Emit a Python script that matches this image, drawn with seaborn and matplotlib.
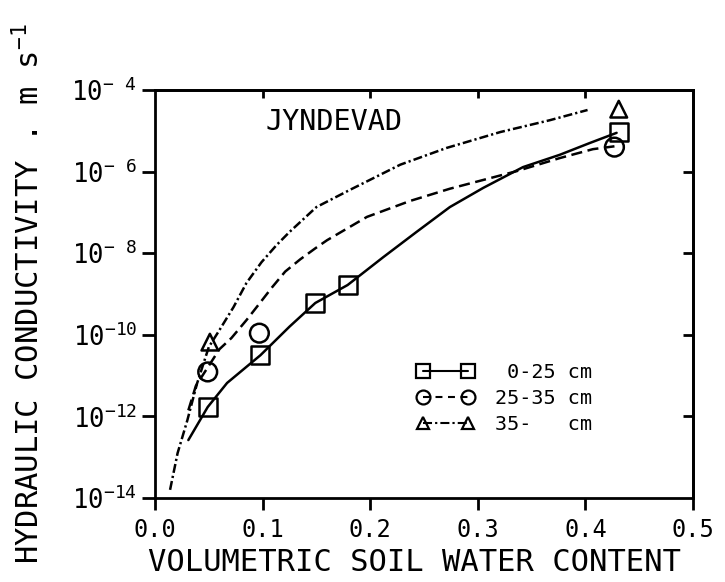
import numpy as np
import matplotlib
matplotlib.use("Agg")
import matplotlib.pyplot as plt
from matplotlib.lines import Line2D
from matplotlib.ticker import NullLocator
import seaborn as sns

# Fitted conductivity curves: volumetric water content vs log10 K (m s-1)
theta_0_25 = [0.031, 0.049, 0.067, 0.098, 0.125, 0.149, 0.179, 0.212, 0.243,
              0.274, 0.305, 0.342, 0.376, 0.404, 0.429]
logk_0_25 = [-12.58, -11.77, -11.18, -10.50, -9.80, -9.22, -8.78, -8.10, -7.48,
             -6.87, -6.40, -5.89, -5.59, -5.30, -5.05]

theta_25_35 = [0.031, 0.038, 0.049, 0.060, 0.071, 0.085, 0.096, 0.109, 0.121,
               0.135, 0.149, 0.160, 0.197, 0.237, 0.274, 0.336, 0.376, 0.407, 0.427]
logk_25_35 = [-11.85, -11.25, -10.80, -10.35, -10.08, -9.64, -9.27, -8.83, -8.45,
              -8.15, -7.88, -7.68, -7.11, -6.72, -6.42, -5.99, -5.67, -5.45, -5.38]

theta_35 = [0.014, 0.021, 0.030, 0.039, 0.050, 0.060, 0.073, 0.085, 0.099, 0.113,
            0.125, 0.150, 0.181, 0.228, 0.271, 0.321, 0.367, 0.402]
logk_35 = [-13.80, -12.90, -12.10, -11.20, -10.30, -9.88, -9.32, -8.73, -8.22, -7.80,
           -7.48, -6.87, -6.45, -5.83, -5.42, -5.03, -4.74, -4.49]

# Measured values
meas_theta_0_25 = [0.049, 0.098, 0.149, 0.179, 0.431]
meas_logk_0_25 = [-11.77, -10.50, -9.22, -8.78, -5.03]
meas_theta_25_35 = [0.049, 0.097, 0.427]
meas_logk_25_35 = [-10.91, -9.96, -5.40]
meas_theta_35 = [0.051, 0.431]
meas_logk_35 = [-10.18, -4.47]

layer_labels = [" 0-25 cm", "25-35 cm", "35-   cm"]
x_ticks = [0.0, 0.1, 0.2, 0.3, 0.4, 0.5]
y_exponents = [4, 6, 8, 10, 12, 14]


def power_label(e):
    # exponent kept in a two-character field, as on a pen plotter
    pad = r"\ \ " if e < 10 else ""
    return r"$10^{-" + pad + str(e) + "}$"


sns.set_theme(style="ticks")
plt.rcParams.update({
    "font.family": ["DejaVu Sans Mono", "DejaVu Sans"],
    "mathtext.default": "regular",
    "axes.linewidth": 2.0,
    "lines.scale_dashes": False,
    "axes.edgecolor": "black",
    "axes.labelcolor": "black",
    "text.color": "black",
    "xtick.color": "black",
    "ytick.color": "black",
})

ls_solid = "-"
ls_dashed = (0, (8, 4))
ls_dashdot = (0, (6.5, 2.2, 1.6, 2.2))

fig = plt.figure(figsize=(7.25, 5.82), dpi=100)
ax = fig.add_axes([155 / 725, 84 / 582, 538 / 725, 408 / 582])
ax.set_yscale("log")

for th, lk, ls in [(theta_0_25, logk_0_25, ls_solid),
                   (theta_25_35, logk_25_35, ls_dashed),
                   (theta_35, logk_35, ls_dashdot)]:
    sns.lineplot(x=th, y=10.0 ** np.array(lk), ax=ax, color="black", lw=1.8,
                 linestyle=ls, sort=False, estimator=None)

for th, lk, mk, size in [(meas_theta_0_25, meas_logk_0_25, "s", 13),
                         (meas_theta_25_35, meas_logk_25_35, "o", 13.5),
                         (meas_theta_35, meas_logk_35, "^", 12)]:
    sns.scatterplot(x=th, y=10.0 ** np.array(lk), ax=ax, marker=mk, s=size ** 2,
                    facecolor="none", edgecolor="black", linewidth=1.8, zorder=3)

ax.set_xlim(0.0, 0.5)
ax.set_ylim(1e-14, 1e-4)

ax.set_xticks(x_ticks)
ax.set_xticklabels([f"{v:.1f}" for v in x_ticks])
ax.set_yticks([10.0 ** -e for e in y_exponents])
ax.set_yticklabels([power_label(e) for e in y_exponents])
ax.yaxis.set_minor_locator(NullLocator())
ax.tick_params(axis="x", direction="out", length=8.6, width=2, pad=6, labelsize=17)
ax.tick_params(axis="y", direction="out", length=9.4, width=2, pad=3.5, labelsize=18.5)

top = ax.secondary_xaxis("top")
top.set_xticks([0.1, 0.2, 0.3, 0.4])
top.tick_params(direction="in", length=6, width=2, labeltop=False)
right = ax.secondary_yaxis("right")
right.set_yticks([10.0 ** -e for e in [6, 8, 10, 12]])
right.yaxis.set_minor_locator(NullLocator())
right.tick_params(direction="in", length=7, width=2, labelright=False)

ax.set_xlabel("VOLUMETRIC SOIL WATER CONTENT", fontsize=22)
ax.xaxis.set_label_coords(0.483, -0.122)
ax.set_ylabel(r"HYDRAULIC CONDUCTIVITY . m s$^{-1}$", fontsize=22)
ax.yaxis.set_label_coords(-0.203, 0.5)

ax.text(0.333, 0.922, "JYNDEVAD", transform=ax.transAxes, fontsize=20.5,
        ha="center", va="center")

handles = [
    Line2D([], [], color="black", lw=1.5, linestyle=ls_solid, marker="s", ms=9.5,
           mfc="none", mec="black", mew=1.6),
    Line2D([], [], color="black", lw=1.5, linestyle=(0, (5, 4)), marker="o", ms=10,
           mfc="none", mec="black", mew=1.6),
    Line2D([], [], color="black", lw=1.5, linestyle=ls_dashdot, marker="^", ms=9,
           mfc="none", mec="black", mew=1.6),
]
ax.legend(handles, layer_labels, loc="upper left", numpoints=2, frameon=False,
          fontsize=14.5, handlelength=2.83, handletextpad=1.05, labelspacing=0.36,
          borderpad=0, borderaxespad=0,
          bbox_to_anchor=(417 / 725, 1 - 363 / 582), bbox_transform=fig.transFigure)

fig.savefig("out.png", dpi=100, facecolor="white")
